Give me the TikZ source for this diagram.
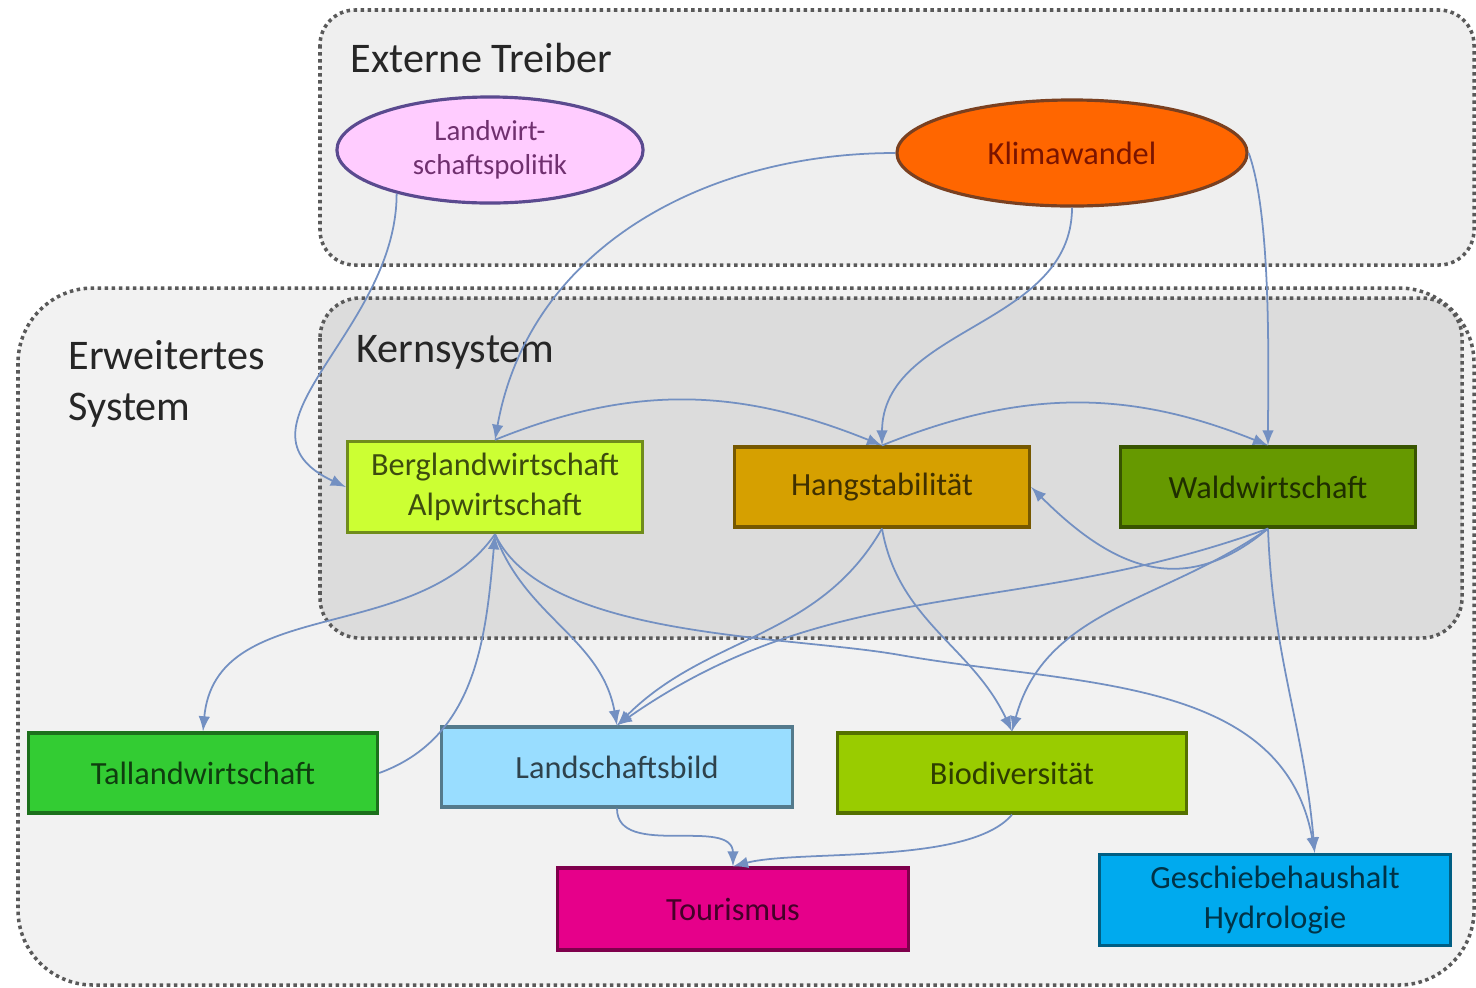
\documentclass[tikz,border=0pt]{standalone}
\usepackage{fontspec}
\setmainfont{Carlito}
\usetikzlibrary{shapes.geometric}
\definecolor{grauext}{HTML}{EFEFEF}
\definecolor{grauerw}{HTML}{F2F2F2}
\definecolor{graukern}{HTML}{DCDCDC}
\definecolor{linie}{HTML}{7390C2}
\definecolor{lwpfarbe}{HTML}{FFCCFF}
\definecolor{lwprand}{HTML}{5A4A8F}
\definecolor{lwptext}{HTML}{70306F}
\definecolor{klimafarbe}{HTML}{FF6600}
\definecolor{klimarand}{HTML}{7A4020}
\definecolor{klimatext}{HTML}{7A1400}
\definecolor{bergfarbe}{HTML}{CCFF33}
\definecolor{hangfarbe}{HTML}{D6A000}
\definecolor{waldfarbe}{HTML}{669900}
\definecolor{talfarbe}{HTML}{33CC33}
\definecolor{lsbfarbe}{HTML}{99DDFF}
\definecolor{biofarbe}{HTML}{99CC00}
\definecolor{tourfarbe}{HTML}{E6008A}
\definecolor{geschfarbe}{HTML}{00AAEE}
\tikzset{bereich/.style={draw=black!65, densely dotted, line width=1pt},
  titel/.style={font=\fontsize{12}{14.4}\selectfont, text=black!85, align=left},
  block/.style={draw=#1!55!black, fill=#1, text=#1!30!black, line width=0.9pt, minimum width=2.95cm, minimum height=0.8cm, align=center, font=\fontsize{9.2}{11.4}\selectfont},
  treiber/.style={ellipse, fill=#1, line width=0.9pt, align=center, inner sep=0pt, minimum height=1.06cm},
  line/.style={-latex, draw=linie, line width=0.5pt}}

\begin{document}
\begin{tikzpicture}[x=0.01cm, y=0.01cm]
    \useasboundingbox (0,0) rectangle (1476,-987);
    % Bereiche
    \draw[bereich, fill=grauext, rounded corners=0.35cm] (320,-10) rectangle (1474,-265);
    \draw[bereich, fill=grauerw, rounded corners=0.75cm] (18,-288) rectangle (1474,-985);
    \draw[bereich, fill=graukern, rounded corners=0.4cm] (320,-298) rectangle (1462,-638);
    \node[titel, anchor=west]           (ext)  at (338,-58)  {Externe Treiber};
    \node[titel, anchor=west]           (erw)  at (56,-384)  {Erweitertes\\System};
    \node[titel, anchor=west]           (kern) at (344,-352) {Kernsystem};

    % Treiber
    \node[treiber=lwpfarbe, draw=lwprand, text=lwptext, minimum width=3.06cm, font=\fontsize{8.2}{9.6}\selectfont] (lwp) at (490,-150) {Landwirt-\\schaftspolitik};
    \node[treiber=klimafarbe, draw=klimarand, text=klimatext, minimum width=3.5cm, font=\fontsize{9.2}{11}\selectfont] (klima) at (1072,-153) {Klimawandel};

    % Systemelemente
    \node[block=bergfarbe]                        (berg)  at (495,-487)  {Berglandwirtschaft\\Alpwirtschaft};
    \node[block=hangfarbe]                        (hang)  at (882,-487)  {Hangstabilität};
    \node[block=waldfarbe]                        (wald)  at (1268,-487) {Waldwirtschaft};
    \node[block=talfarbe, minimum width=3.49cm]   (tal)   at (203,-773)  {Tallandwirtschaft};
    \node[block=lsbfarbe, minimum width=3.5cm]    (lsb)   at (617,-767)  {Landschaftsbild};
    \node[block=biofarbe, minimum width=3.49cm]   (bio)   at (1012,-773) {Biodiversität};
    \node[block=tourfarbe, minimum width=3.5cm, minimum height=0.82cm]    (tour)  at (733,-909)  {Tourismus};
    \node[block=geschfarbe, minimum width=3.51cm, minimum height=0.84cm]  (gesch) at (1275,-900) {Geschiebehaushalt\\Hydrologie};
    \coordinate (knick) at (900,-655);

    % Wirkungen
    \draw[line] (lwp.205)     to[out=-90, in=155, looseness=1.2] (berg.west);
    \draw[line] (klima.west)  to[out=180, in=80] (berg.north);
    \draw[line] (klima.south) to[out=-90, in=90] (hang.north);
    \draw[line] (klima.east)  to[out=-70, in=90, looseness=0.6] (wald.north);
    \draw[line] (berg.north)  to[out=22, in=158] (hang.north);
    \draw[line] (hang.north)  to[out=22, in=158] (wald.north);
    \draw[line] (wald.south)  to[out=220, in=-45, looseness=1.2] (hang.east);
    \draw[line] (wald.south)  to[out=200, in=35] (lsb.north);
    \draw[line] (wald.south)  to[out=215, in=75] (bio.north);
    \draw[line] (wald.south)  to[out=-88, in=95] (gesch.50);
    \draw[line] (hang.south)  to[out=-120, in=45] (lsb.north);
    \draw[line] (hang.south)  to[out=-80, in=115] (bio.north);
    \draw[line] (berg.south)  to[out=-125, in=85] (tal.north);
    \draw[line] (tal.east)    to[out=20, in=-95] (berg.south);
    \draw[line] (berg.south)  to[out=-70, in=100] (lsb.north);
    \draw[line] (berg.south)  to[out=-65, in=170, looseness=0.7] (knick) to[out=-10, in=100] (gesch.50);
    \draw[line] (lsb.south)   to[out=-90, in=90] (tour.north);
    \draw[line] (bio.south)   to[out=-130, in=15, looseness=0.6] (tour.north);
\end{tikzpicture}
\end{document}
